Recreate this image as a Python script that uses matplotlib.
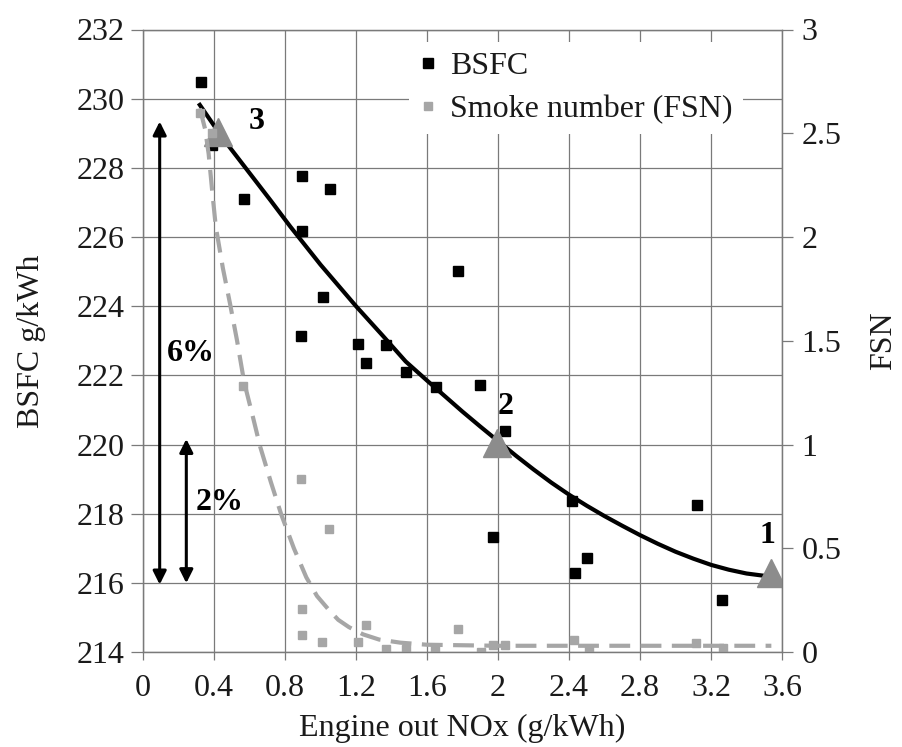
import matplotlib
matplotlib.use("Agg")
import matplotlib.pyplot as plt

SERIF = 'Liberation Serif'
plt.rcParams['font.family'] = SERIF

# BSFC measurements (Engine out NOx g/kWh, BSFC g/kWh)
bsfc_nox = [0.325, 0.389, 0.567, 0.897, 1.051, 0.897, 1.014, 0.892, 1.211, 1.367, 1.258,
            1.479, 1.648, 1.774, 1.901, 2.040, 1.972, 2.416, 2.500, 2.436, 3.121, 3.260]
bsfc_val = [230.47, 228.66, 227.10, 227.77, 227.38, 226.18, 224.26, 223.14, 222.92, 222.87, 222.35,
            222.11, 221.66, 225.03, 221.73, 220.40, 217.32, 218.37, 216.73, 216.28, 218.26, 215.51]

# Smoke number measurements
fsn_nox = [0.320, 0.389, 0.563, 0.892, 1.047, 0.897, 0.897, 1.010, 1.210, 1.258, 1.367,
           1.483, 1.643, 1.774, 1.905, 1.970, 2.040, 2.430, 2.510, 3.116, 3.266]
fsn_val = [2.60, 2.50, 1.28, 0.834, 0.593, 0.207, 0.082, 0.050, 0.050, 0.130, 0.013,
           0.013, 0.013, 0.109, 0.000, 0.034, 0.034, 0.058, 0.010, 0.042, 0.018]

# BSFC trend line
trend_nox = [0.32, 0.45, 0.60, 0.72, 0.83, 1.00, 1.10, 1.20, 1.35, 1.48, 1.60, 1.70, 1.80, 1.90, 2.00,
             2.10, 2.20, 2.30, 2.40, 2.50, 2.60, 2.70, 2.80, 2.90, 3.00, 3.10, 3.20, 3.30, 3.40, 3.52]
trend_bsfc = [229.82, 228.85, 227.85, 227.05, 226.30, 225.20, 224.60, 224.00, 223.15, 222.40, 221.85,
              221.40, 220.95, 220.52, 220.10, 219.68, 219.28, 218.90, 218.55, 218.23, 217.93, 217.65,
              217.38, 217.13, 216.90, 216.70, 216.52, 216.38, 216.27, 216.19]

# FSN trend line
fsn_trend_nox = [0.32, 0.35, 0.37, 0.39, 0.41, 0.45, 0.49, 0.53, 0.57, 0.62, 0.66, 0.72, 0.78, 0.85,
                 0.92, 0.98, 1.05, 1.10, 1.16, 1.24, 1.33, 1.45, 1.60, 2.00, 2.50, 3.00, 3.54]
fsn_trend_val = [2.62, 2.52, 2.40, 2.22, 2.05, 1.85, 1.68, 1.50, 1.30, 1.13, 0.99, 0.82, 0.66, 0.50,
                 0.36, 0.27, 0.20, 0.155, 0.12, 0.085, 0.06, 0.045, 0.035, 0.03, 0.03, 0.03, 0.03]

# Operating points 1, 2, 3
op_labels = ['1', '2', '3']
op_nox = [3.538, 1.993, 0.422]
op_bsfc = [216.28, 220.04, 229.05]

x_ticks = [0, 0.4, 0.8, 1.2, 1.6, 2, 2.4, 2.8, 3.2, 3.6]
x_tick_labels = ['0', '0.4', '0.8', '1.2', '1.6', '2', '2.4', '2.8', '3.2', '3.6']
y_ticks = list(range(214, 233, 2))
fsn_ticks = [0, 0.5, 1, 1.5, 2, 2.5, 3]
fsn_tick_labels = ['0', '0.5', '1', '1.5', '2', '2.5', '3']

FS = 23
grid_c = '#7a7a7a'
grey = '#a6a6a6'
txt_c = '#1a1a1a'

fig = plt.figure(figsize=(9.02, 7.47), dpi=100)
ax1 = fig.add_axes([143/902, 1-652/747, (782-143)/902, (652-29.5)/747])
ax2 = ax1.twinx()

ax1.set_xlim(0, 3.6)
ax1.set_ylim(214, 232)
ax2.set_ylim(0, 3)

ax1.set_xticks(x_ticks)
ax1.set_xticklabels(x_tick_labels)
ax1.set_yticks(y_ticks)
ax2.set_yticks(fsn_ticks)
ax2.set_yticklabels(fsn_tick_labels)

ax1.grid(True, color=grid_c, lw=0.9)
ax1.set_axisbelow(True)
for ax in (ax1, ax2):
    for s in ax.spines.values():
        s.set_color(grid_c)
        s.set_linewidth(0.9)
ax1.tick_params(axis='y', direction='out', length=9, width=0.9, color=grid_c, labelsize=FS, pad=4, labelcolor=txt_c)
ax1.tick_params(axis='x', direction='out', length=6, width=0.9, color=grid_c, labelsize=FS, pad=10, labelcolor=txt_c)
ax2.tick_params(axis='y', direction='out', length=8, width=0.9, color=grid_c, labelsize=FS, pad=6, labelcolor=txt_c)
for lab in ax1.get_xticklabels() + ax1.get_yticklabels() + ax2.get_yticklabels():
    lab.set_fontfamily(SERIF)

# BSFC data
ax1.plot(trend_nox, trend_bsfc, color='black', lw=3, zorder=3, solid_joinstyle='round')
ax1.plot(bsfc_nox, bsfc_val, 's', color='black', ms=6.5, zorder=4, label='BSFC')
ax1.plot(op_nox, op_bsfc, '^', color='#8c8c8c', ms=20, zorder=5)
label_off = {'1': (-0.02, 1.1), '2': (0.05, 1.05), '3': (0.22, 0.3)}
for lab, x, y in zip(op_labels, op_nox, op_bsfc):
    dx, dy = label_off[lab]
    ax1.text(x + dx, y + dy, lab, fontsize=FS, fontweight='bold', ha='center', va='center', family=SERIF)

# FSN data
ax2.plot(fsn_trend_nox, fsn_trend_val, color=grey, lw=3, ls=(0, (5, 2.5)), zorder=2)
ax2.plot(fsn_nox, fsn_val, 's', color=grey, ms=5.5, zorder=2, label='Smoke number (FSN)')

# arrows 6% and 2%
ax1.annotate('', xy=(0.094, 215.95), xytext=(0.094, 229.34),
             arrowprops=dict(arrowstyle='<|-|>', color='black', lw=2.2, mutation_scale=20, shrinkA=0, shrinkB=0))
ax1.annotate('', xy=(0.244, 215.99), xytext=(0.244, 220.16),
             arrowprops=dict(arrowstyle='<|-|>', color='black', lw=2.2, mutation_scale=20, shrinkA=0, shrinkB=0))
ax1.text(0.27, 222.64, '6%', fontsize=FS, fontweight='bold', ha='center', va='center', family=SERIF)
ax1.text(0.43, 218.31, '2%', fontsize=FS, fontweight='bold', ha='center', va='center', family=SERIF)

ax1.set_xlabel('Engine out NOx (g/kWh)', fontsize=FS, labelpad=8, family=SERIF, color=txt_c)
ax1.set_ylabel('BSFC g/kWh', fontsize=FS, labelpad=22, family=SERIF, color=txt_c)
ax2.set_ylabel('FSN', fontsize=FS, labelpad=20, family=SERIF, color=txt_c)

h1, l1 = ax1.get_legend_handles_labels()
h2, l2 = ax2.get_legend_handles_labels()
leg = ax2.legend(h1 + h2, l1 + l2, loc='upper left', bbox_to_anchor=(393/902, 1-26/747),
                 bbox_transform=fig.transFigure, frameon=True, framealpha=1,
                 facecolor='white', edgecolor='none', handlelength=0.6, handletextpad=0.4,
                 borderpad=0.3, labelspacing=0.45, fancybox=False, markerscale=1.0,
                 prop={'family': SERIF, 'size': FS})
for t in leg.get_texts():
    t.set_color(txt_c)

fig.savefig('out.png', dpi=100)
